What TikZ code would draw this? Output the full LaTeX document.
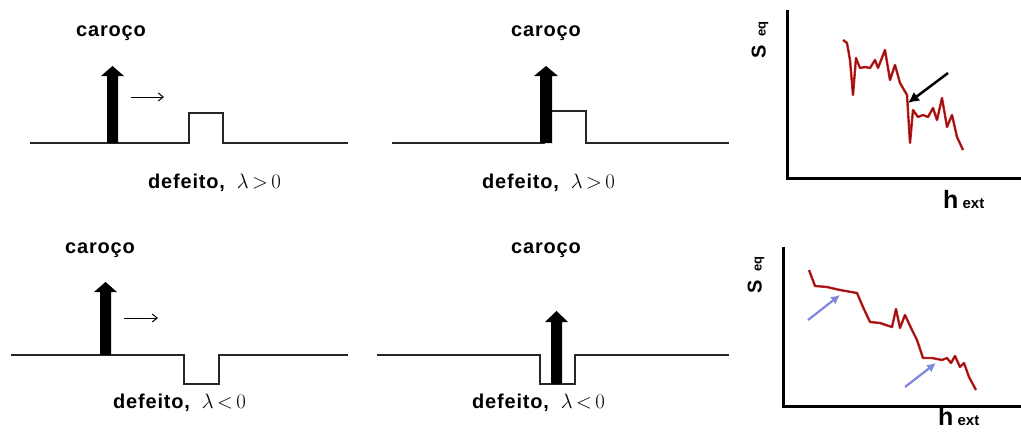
\documentclass[tikz,border=0pt]{standalone}
\usepackage{fontspec}
\setmainfont{Liberation Sans}
\usetikzlibrary{arrows.meta}
\definecolor{curvered}{RGB}{215,30,30}
\definecolor{curvedark}{RGB}{120,20,20}
\definecolor{arrowblue}{RGB}{125,135,220}
\begin{document}
\begin{tikzpicture}[x=1pt,y=-1pt,
  baseline/.style={line width=1.3pt, black!85, line join=miter},
  bigarrow/.style={fill=black},
  smallarrow/.style={line width=1pt, -{Straight Barb[length=5pt,width=8pt]}},
  axis/.style={line width=3pt},
  curve/.style={line width=0.9pt, draw=curvedark, line join=round,
    preaction={draw=curvered, line width=2.4pt, line join=round}},
  lab/.style={font=\fontsize{20}{24}\selectfont\bfseries\addfontfeature{LetterSpace=4}, inner sep=0pt},
  seq/.style={inner sep=0pt, rotate=90},
  hext/.style={inner sep=0pt, anchor=base west}
]
\useasboundingbox (0,0) rectangle (1021,439);

% ---------- panel 1 ----------
\draw[baseline] (30,143) -- (189,143) -- (189,113) -- (223,113) -- (223,143) -- (348,143);
\fill[bigarrow] (107,143) -- (107,76) -- (101,76) -- (112.5,66) -- (124,76) -- (118,76) -- (118,143) -- cycle;
\coordinate (s1a) at (131,97); \coordinate (s1b) at (164,97);
\draw[smallarrow] (s1a) -- (s1b);
\node[lab] (car1) at (111,33) {caroço};
\node[lab, anchor=west] (def1) at (148,183) {defeito,\hspace{12pt}$\lambda\,{>}\,0$};

% ---------- panel 2 ----------
\draw[baseline] (392,143) -- (545,143);
\draw[baseline] (552,111) -- (586,111) -- (586,143) -- (729,143);
\fill[bigarrow] (540,143) -- (540,76) -- (534,76) -- (546,66) -- (558,76) -- (552,76) -- (552,143) -- cycle;
\node[lab] (car2) at (546,33) {caroço};
\node[lab, anchor=west] (def2) at (482,183) {defeito,\hspace{12pt}$\lambda\,{>}\,0$};

% ---------- panel 3 (graph top) ----------
\coordinate (ax1top) at (787,10); \coordinate (ax1o) at (787,178); \coordinate (ax1r) at (1021,178);
\draw[axis] (ax1top) -- (ax1o) -- (ax1r);
\node[seq] (seq1) at (760,40) {\fontsize{20}{24}\selectfont\bfseries S\hspace{8pt}\fontsize{13}{15}\selectfont eq};
\node[hext] (hext1) at (943,208) {\fontsize{25}{28}\selectfont\bfseries h\,\fontsize{15}{18}\selectfont ext};
\draw[curve] (843,40) -- (847,43) -- (850,60) -- (853,95) -- (856,58) -- (860,68) -- (865,67) -- (870,68)
  -- (875,60) -- (878,68) -- (885,50) -- (890,80) -- (895,65) -- (900,83) -- (907,95) -- (910,143)
  -- (913,110) -- (918,117) -- (923,115) -- (928,117) -- (933,108) -- (937,120) -- (942,98)
  -- (947,127) -- (952,115) -- (957,137) -- (963,150);
\coordinate (ba1) at (948,73); \coordinate (ba2) at (908,103);
\draw[line width=2.5pt, -{Latex[length=11pt,width=11pt]}] (ba1) -- (ba2);

% ---------- panel 4 ----------
\draw[baseline] (11,355) -- (184,355) -- (184,384) -- (219,384) -- (219,355) -- (348,355);
\fill[bigarrow] (100,355) -- (100,292) -- (94,292) -- (105.5,282) -- (117,292) -- (111,292) -- (111,355) -- cycle;
\coordinate (s4a) at (124,318); \coordinate (s4b) at (158,318);
\draw[smallarrow] (s4a) -- (s4b);
\node[lab] (car4) at (100,250) {caroço};
\node[lab, anchor=west] (def4) at (113,403) {defeito,\hspace{12pt}$\lambda\,{<}\,0$};

% ---------- panel 5 ----------
\draw[baseline] (377,355) -- (540,355) -- (540,384) -- (575,384) -- (575,355) -- (729,355);
\fill[bigarrow] (551,384) -- (551,322) -- (545,322) -- (556.5,311) -- (568,322) -- (562,322) -- (562,384) -- cycle;
\node[lab] (car5) at (546,250) {caroço};
\node[lab, anchor=west] (def5) at (472,403) {defeito,\hspace{12pt}$\lambda\,{<}\,0$};

% ---------- panel 6 (graph bottom) ----------
\coordinate (ax2top) at (783,247); \coordinate (ax2o) at (783,406); \coordinate (ax2r) at (1021,406);
\draw[axis] (ax2top) -- (ax2o) -- (ax2r);
\node[seq] (seq2) at (756,275) {\fontsize{20}{24}\selectfont\bfseries S\hspace{8pt}\fontsize{13}{15}\selectfont eq};
\node[hext] (hext2) at (938,425) {\fontsize{25}{28}\selectfont\bfseries h\,\fontsize{15}{18}\selectfont ext};
\draw[curve] (809,270) -- (815,286) -- (827,287) -- (840,290) -- (857,293) -- (863,307) -- (870,322)
  -- (880,323) -- (892,327) -- (896,309) -- (900,328) -- (905,315) -- (912,330) -- (917,340)
  -- (923,358) -- (932,358) -- (942,360) -- (947,358) -- (951,363) -- (955,356) -- (960,367)
  -- (964,363) -- (969,377) -- (976,390);
\coordinate (bb1) at (808,320); \coordinate (bb2) at (840,295);
\coordinate (bc1) at (905,387); \coordinate (bc2) at (936,363);
\draw[arrowblue, line width=2.2pt, -{Latex[length=9pt,width=9pt]}] (bb1) -- (bb2);
\draw[arrowblue, line width=2.2pt, -{Latex[length=9pt,width=9pt]}] (bc1) -- (bc2);
\end{tikzpicture}
\end{document}
